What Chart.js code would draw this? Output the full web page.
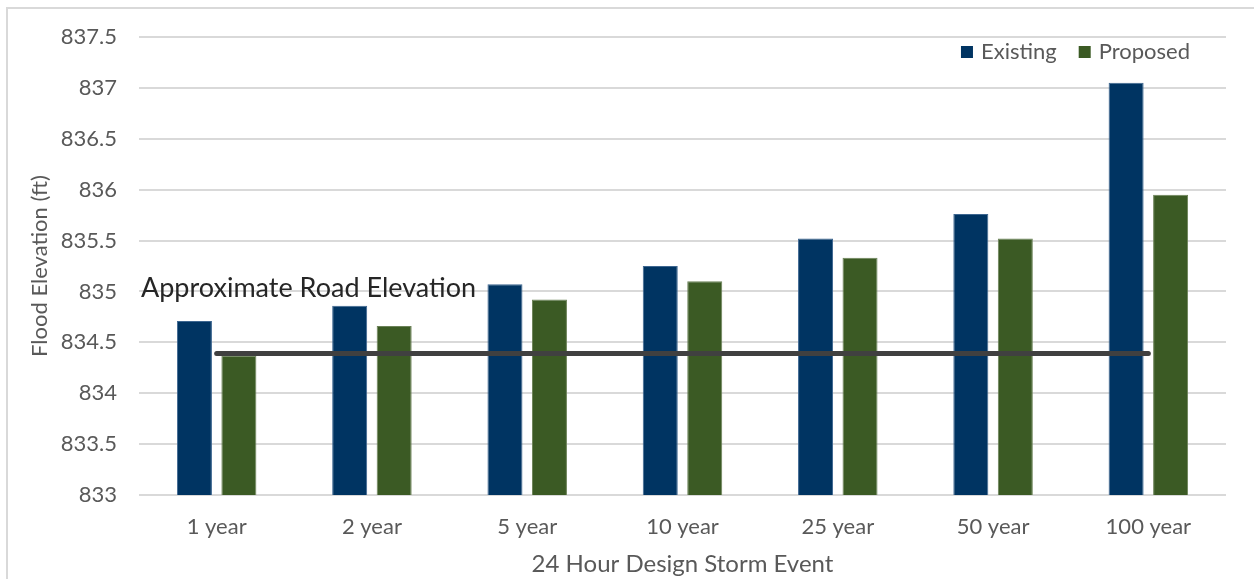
<!DOCTYPE html>
<html>
<head>
<meta charset="utf-8">
<style>
  html, body { margin: 0; padding: 0; background: #ffffff; }
  #wrap { position: relative; width: 1254px; height: 579px; }
</style>
<script src="https://cdn.jsdelivr.net/npm/chart.js@4/dist/chart.umd.min.js"></script>
</head>
<body>
<div id="wrap"><canvas id="chart" width="1254" height="579"></canvas></div>
<script>
// Storm return periods (24-hour design storms)
const categories = ['1 year', '2 year', '5 year', '10 year', '25 year', '50 year', '100 year'];

// Peak flood elevations (ft)
const existingValues = [834.71, 834.86, 835.07, 835.25, 835.52, 835.76, 837.05];
const proposedValues = [834.37, 834.66, 834.92, 835.10, 835.33, 835.52, 835.95];

// Approximate road elevation (ft)
const roadElevation = 834.39;
const roadLabel = 'Approximate Road Elevation';

// Y axis range and tick step
const yMin = 833;
const yMax = 837.5;
const yStep = 0.5;

const FONT = 'Lato, "Open Sans", sans-serif';
const TEXT_GREY = '#595959';
const GRID_GREY = '#d9d9d9';
const EXISTING_COLOR = '#003462';
const PROPOSED_COLOR = '#3b5a24';

// Light frame lines along the left and top edges
const framePlugin = {
  id: 'frame',
  beforeDraw(chart) {
    const ctx = chart.ctx;
    ctx.save();
    ctx.strokeStyle = GRID_GREY;
    ctx.lineWidth = 2;
    ctx.beginPath();
    ctx.moveTo(7, chart.height);
    ctx.lineTo(7, 8);
    ctx.lineTo(chart.width, 8);
    ctx.stroke();
    ctx.restore();
  }
};

// Legend drawn inside the plot area, top right
const insideLegend = {
  id: 'insideLegend',
  afterDraw(chart) {
    const ctx = chart.ctx;
    const area = chart.chartArea;
    const items = chart.data.datasets.filter(d => d.type !== 'line');
    ctx.save();
    ctx.font = '22px ' + FONT;
    ctx.textBaseline = 'middle';
    ctx.textAlign = 'left';
    const box = 12, gap = 8, spacing = 22;
    const widths = items.map(d => box + gap + ctx.measureText(d.label).width);
    const total = widths.reduce((a, b) => a + b, 0) + spacing * (items.length - 1);
    let x = area.right - 36 - total;
    const y = area.top + 15;
    items.forEach((d, i) => {
      ctx.fillStyle = d.backgroundColor;
      ctx.fillRect(x, y - box / 2, box, box);
      ctx.fillStyle = TEXT_GREY;
      ctx.fillText(d.label, x + box + gap, y);
      x += widths[i] + spacing;
    });
    ctx.restore();
  }
};

// Caption above the road elevation line
const roadCaption = {
  id: 'roadCaption',
  afterDatasetsDraw(chart) {
    const ctx = chart.ctx;
    const yScale = chart.scales.y;
    const yRoad = yScale.getPixelForValue(roadElevation);
    ctx.save();
    ctx.font = '27px ' + FONT;
    ctx.fillStyle = '#262626';
    ctx.textAlign = 'left';
    ctx.textBaseline = 'alphabetic';
    ctx.fillText(roadLabel, chart.chartArea.left + 2, yRoad - 57);
    ctx.restore();
  }
};

new Chart(document.getElementById('chart'), {
  data: {
    labels: categories,
    datasets: [
      {
        type: 'line',
        label: roadLabel,
        data: categories.map(() => roadElevation),
        borderColor: '#404040',
        borderWidth: 5,
        borderCapStyle: 'round',
        pointRadius: 0,
        fill: false,
        order: 0
      },
      {
        type: 'bar',
        label: 'Existing',
        data: existingValues,
        backgroundColor: EXISTING_COLOR,
        borderColor: '#3d6690',
        borderWidth: 1,
        categoryPercentage: 0.573,
        barPercentage: 0.787,
        order: 1
      },
      {
        type: 'bar',
        label: 'Proposed',
        data: proposedValues,
        backgroundColor: PROPOSED_COLOR,
        borderColor: '#6b8257',
        borderWidth: 1,
        categoryPercentage: 0.573,
        barPercentage: 0.787,
        order: 1
      }
    ]
  },
  options: {
    responsive: false,
    animation: false,
    layout: { padding: { top: 37, right: 28, left: 0, bottom: 0 } },
    plugins: {
      legend: { display: false },
      tooltip: { enabled: false }
    },
    scales: {
      x: {
        grid: { display: false, drawTicks: false },
        border: { display: false },
        ticks: { color: TEXT_GREY, font: { family: FONT, size: 22 }, padding: 19, maxRotation: 0 },
        title: {
          display: true,
          text: '24 Hour Design Storm Event',
          color: TEXT_GREY,
          font: { family: FONT, size: 24 },
          padding: { top: 6, bottom: 0 }
        },
        afterFit(scale) { scale.height = 84; }
      },
      y: {
        min: yMin,
        max: yMax,
        grid: { color: GRID_GREY, lineWidth: 2, drawTicks: false },
        border: { display: false },
        ticks: {
          stepSize: yStep,
          color: TEXT_GREY,
          font: { family: FONT, size: 22 },
          padding: 22,
          callback: v => String(Math.round(v * 10) / 10)
        },
        title: {
          display: true,
          text: 'Flood Elevation (ft)',
          color: TEXT_GREY,
          font: { family: FONT, size: 22 },
          padding: { top: 27, bottom: 4 }
        },
        afterFit(scale) { scale.width = 139; }
      }
    }
  },
  plugins: [framePlugin, insideLegend, roadCaption]
});
</script>
</body>
</html>
